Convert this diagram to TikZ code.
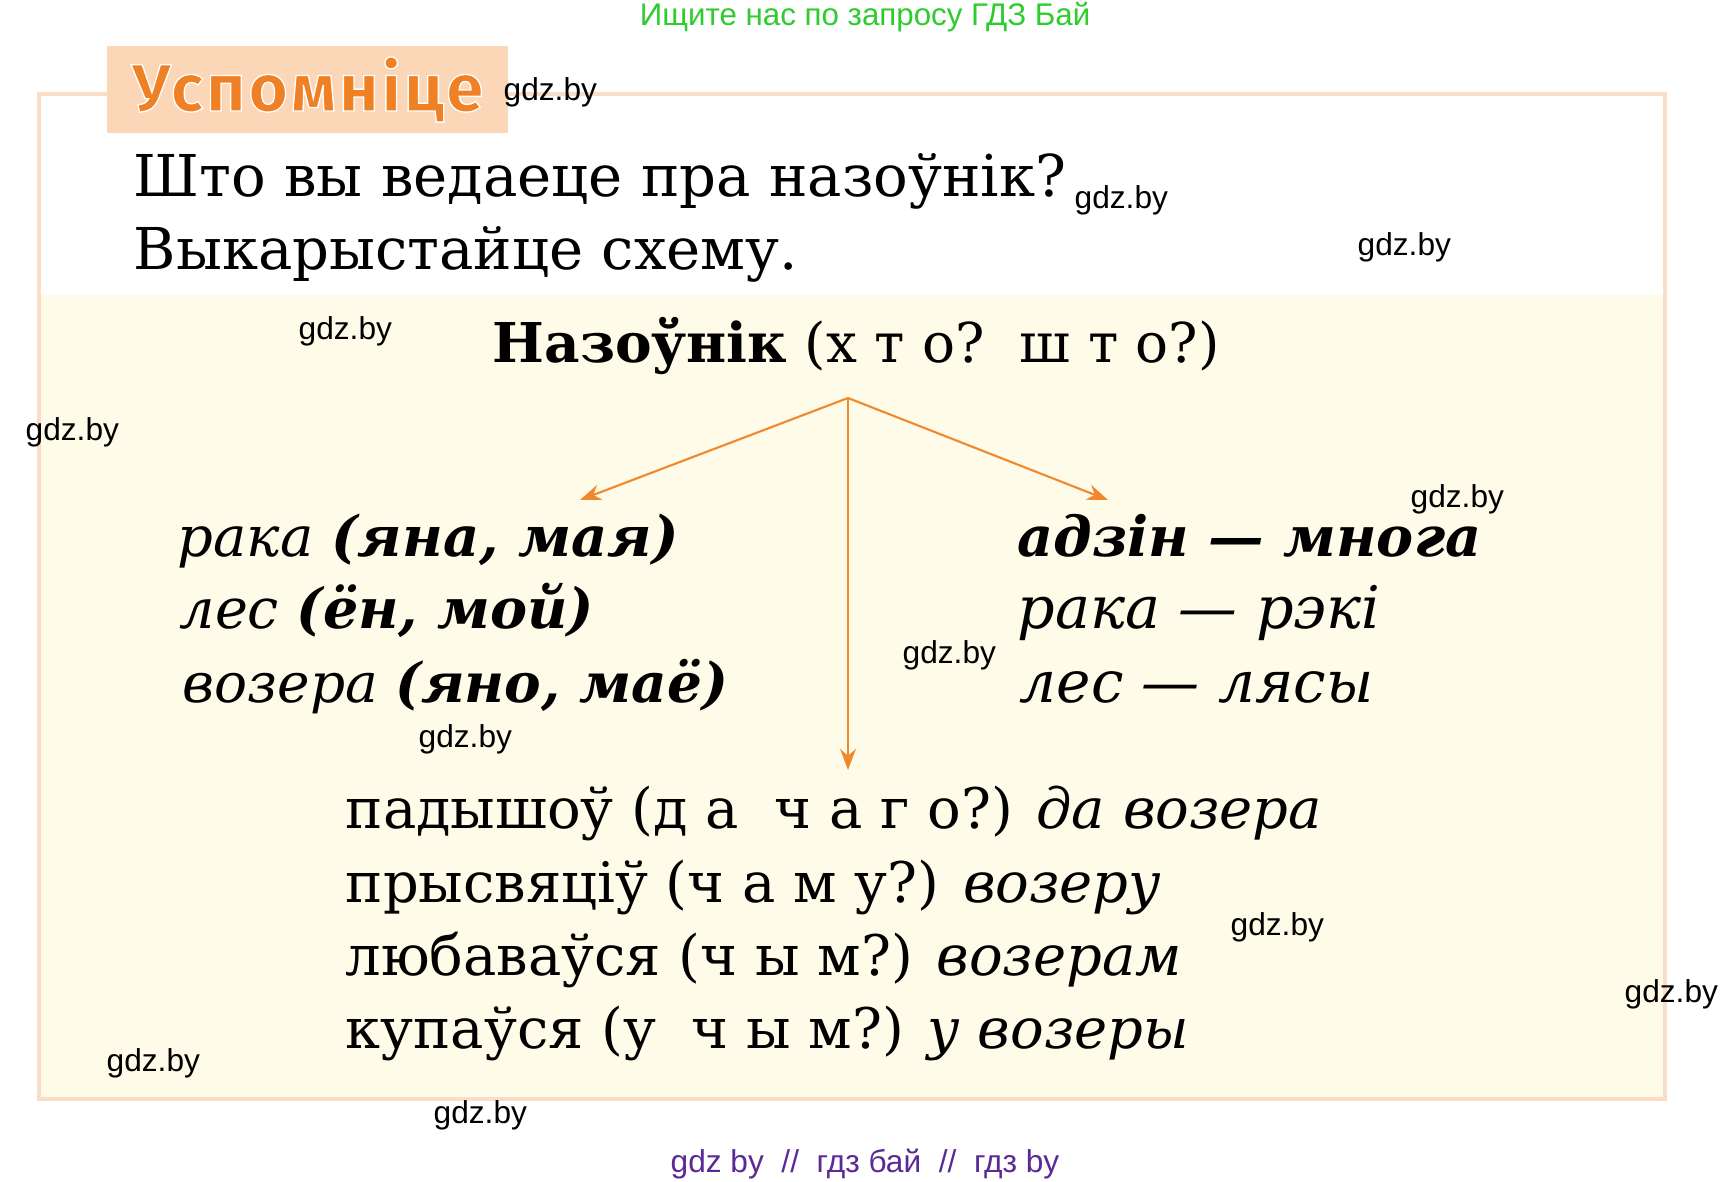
\documentclass[tikz,border=0pt]{standalone}
\usepackage{fontspec}
\setmainfont{DejaVu Serif}
\newfontfamily\wmfont{Liberation Sans}
\newfontfamily\headfont{Fira Sans}
\usetikzlibrary{arrows.meta,positioning}

\definecolor{framepeach}{RGB}{250,221,198}
\definecolor{headpeach}{RGB}{251,215,184}
\definecolor{cream}{RGB}{254,251,232}
\definecolor{headorange}{RGB}{239,128,36}
\definecolor{arroworange}{RGB}{240,137,46}
\definecolor{wmgreen}{RGB}{46,204,46}
\definecolor{wmpurple}{RGB}{92,42,150}

\tikzset{
    wm/.style={anchor=west, inner sep=0pt, font=\wmfont\fontsize{9}{11}\selectfont},
    line/.style={anchor=base west, inner sep=0pt, font=\fontsize{16}{19}\selectfont},
    link/.style={arroworange, line width=0.6pt, -{Stealth[length=6pt,width=4.5pt]}}
}

\begin{document}
\begin{tikzpicture}[x=0.01cm, y=-0.01cm]
    \useasboundingbox (0,0) rectangle (1733,1182);
    \fill[white] (0,0) rectangle (1733,1182);

    % frame
    \fill[cream] (39,295) rectangle (1665,1099);
    \draw[framepeach, line width=1.4pt] (39,94) rectangle (1665,1099);
    \node[fill=headpeach, minimum width=4.01cm, minimum height=0.87cm, inner sep=0pt]
        (head) at (307.5,89.5) {\headfont\bfseries\fontsize{19}{21}\selectfont
        \addfontfeature{FakeBold=2,LetterSpace=5}\color{headorange}%
        \special{pdf:code 1 1 1 RG}Успомніце};

    % question
    \node[line, font=\fontsize{16.4}{19}\selectfont] (askA) at (133,197) {Што вы ведаеце пра назоўнік?};
    \node[line, font=\fontsize{16.4}{19}\selectfont] (askB) at (133,269) {Выкарыстайце схему.};

    % scheme
    \node[line, font=\fontsize{15.6}{18}\selectfont] (noun) at (492,362)
        {\textbf{Назоўнік} (х т о?\ \ ш т о?)};
    \coordinate (split) at (848,398);
    \coordinate (toGender) at (580,500);
    \coordinate (toNumber) at (1108,500);
    \coordinate (toCase) at (848,770);
    \draw[link] (split) -- (toGender);
    \draw[link] (split) -- (toNumber);
    \draw[link] (split) -- (toCase);

    % gender
    \node[line, font=\fontsize{15.9}{19}\selectfont] (genA) at (177,556) {\itshape рака \textbf{(яна, мая)}};
    \node[line, font=\fontsize{15.8}{19}\selectfont] (genB) at (179,628) {\itshape лес \textbf{(ён, мой)}};
    \node[line, font=\fontsize{15.6}{19}\selectfont] (genC) at (182,702) {\itshape возера \textbf{(яно, маё)}};

    % number
    \node[line, font=\fontsize{15.8}{19}\selectfont] (numA) at (1017,556) {\itshape\bfseries адзін — многа};
    \node[line, font=\fontsize{16.7}{19}\selectfont] (numB) at (1017,628) {\itshape рака — рэкі};
    \node[line, font=\fontsize{16.5}{19}\selectfont] (numC) at (1019,702) {\itshape лес — лясы};

    % cases
    \node[line, font=\fontsize{15.9}{19}\selectfont] (caseA) at (345,828) {падышоў (д а\ \ ч а г о?) \textit{да возера}};
    \node[line, font=\fontsize{15.9}{19}\selectfont] (caseB) at (345,902) {прысвяціў (ч а м у?) \textit{возеру}};
    \node[line, font=\fontsize{15.9}{19}\selectfont] (caseC) at (345,975) {любаваўся (ч ы м?) \textit{возерам}};
    \node[line, font=\fontsize{15.9}{19}\selectfont] (caseD) at (345,1048) {купаўся (у\ \ ч ы м?) \textit{у возеры}};

    % watermarks
    \node[wm, anchor=center, text=wmgreen, font=\wmfont\fontsize{8.9}{11}\selectfont]
        (top) at (865,17) {Ищите нас по запросу ГДЗ Бай};
    \foreach \x/\y [count=\i] in {503/92, 1074/200, 1357/247, 298/331, 25/432,
        1410/499, 902/655, 418/739, 1230/927, 1624/994, 106/1063, 433/1115} {
        \node[wm] (wm\i) at (\x,\y) {gdz.by};
    }
    \node[wm, anchor=center, text=wmpurple] (bottom) at (865,1164)
        {gdz by\ \ //\ \ гдз бай\ \ //\ \ гдз by};
\end{tikzpicture}
\end{document}
